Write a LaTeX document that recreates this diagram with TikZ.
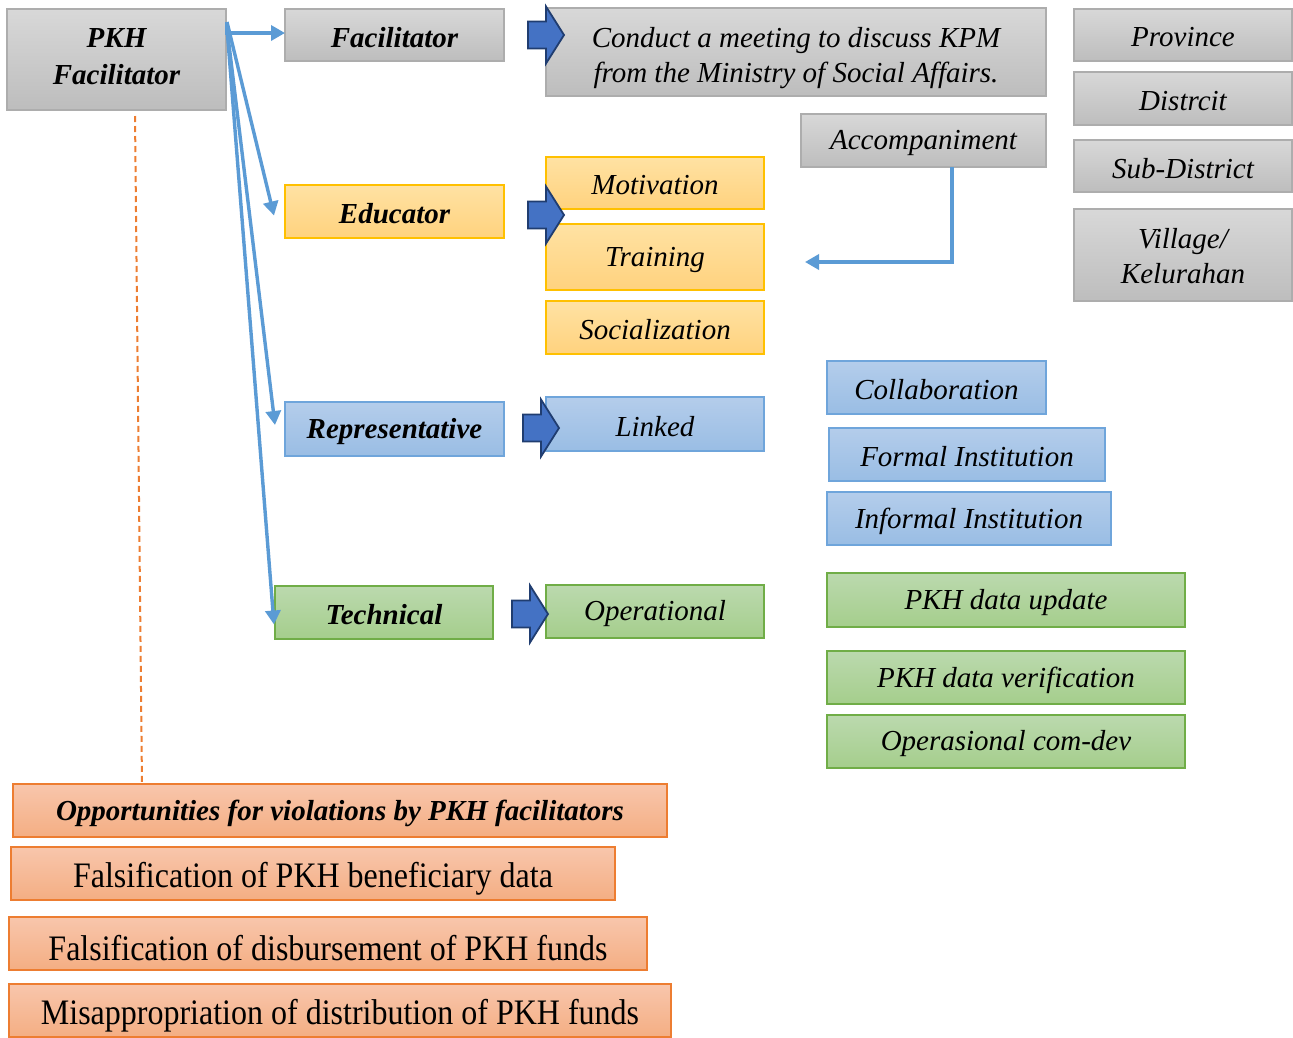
\documentclass[tikz,border=0pt]{standalone}
\usepackage{fontspec}
\usepackage{graphicx}
\setmainfont{Liberation Serif}
\usetikzlibrary{arrows.meta}
\definecolor{gTop}{HTML}{D8D8D8}\definecolor{gBot}{HTML}{BDBDBD}\definecolor{gLine}{HTML}{ADADAD}
\definecolor{yTop}{HTML}{FFE2A3}\definecolor{yBot}{HTML}{FFD27E}\definecolor{yLine}{HTML}{FFC000}
\definecolor{bTop}{HTML}{B4CDEB}\definecolor{bBot}{HTML}{99BDE4}\definecolor{bLine}{HTML}{6FA5DB}
\definecolor{grTop}{HTML}{BBD9AE}\definecolor{grBot}{HTML}{A5CE8C}\definecolor{grLine}{HTML}{70AD47}
\definecolor{oTop}{HTML}{F8C6AC}\definecolor{oBot}{HTML}{F4AE83}\definecolor{oLine}{HTML}{ED7D31}
\definecolor{arrFill}{HTML}{4472C4}\definecolor{arrLine}{HTML}{203D70}
\definecolor{conn}{HTML}{5B9BD5}
% #1 box style, #2 text style, #3 name, #4-#7 corners, #8 text vertical shift, #9 text
\newcommand\bx[9]{%
  \node[#1, minimum width={#6pt-#4pt}, minimum height={#7pt-#5pt}] (#3) at ({(#4+#6)/2},{(#5+#7)/2}) {};
  \node[#2] (#3-t) at ([yshift=#8pt]#3.center) {#9};}
\newcommand\tallrm[1]{\scalebox{1}[1.12]{#1}}
\newcommand\blockarr[2]{\draw[blockarrow] (#1,#2-13.5) -- (#1+18,#2-13.5) -- (#1+18,#2-28.5) -- (#1+36,#2) -- (#1+18,#2+28.5) -- (#1+18,#2+13.5) -- (#1,#2+13.5) -- cycle;}
\begin{document}
\begin{tikzpicture}[x=1pt,y=-1pt,
  base/.style={inner sep=0pt, outer sep=0pt, line width=1.2pt},
  gbox/.style={base, draw=gLine, top color=gTop, bottom color=gBot},
  ybox/.style={base, draw=yLine, top color=yTop, bottom color=yBot},
  bbox/.style={base, draw=bLine, top color=bTop, bottom color=bBot},
  grbox/.style={base, draw=grLine, top color=grTop, bottom color=grBot},
  obox/.style={base, draw=oLine, top color=oTop, bottom color=oBot},
  it/.style={inner sep=0pt, align=center, font=\fontsize{29}{35}\selectfont\itshape},
  hd/.style={inner sep=0pt, align=center, font=\fontsize{29}{37}\selectfont\bfseries\itshape},
  rm/.style={inner sep=0pt, align=center, font=\fontsize{32}{36}\selectfont},
  blockarrow/.style={fill=arrFill, draw=arrLine, line width=1.8pt, line join=miter},
  link/.style={draw=conn, line width=3.4pt, -{Triangle[width=15pt,length=14pt]}},
]
\useasboundingbox (0,0) rectangle (1293,1037);
\fill[white] (0,0) rectangle (1293,1037);

% left column
\bx{gbox}{hd}{pkh}{7}{9}{226}{110}{3}{PKH\\Facilitator}
\bx{gbox}{hd}{fac}{285}{9}{504}{61}{-2.5}{Facilitator}
\bx{ybox}{hd}{edu}{285}{185}{504}{238}{-2.5}{Educator}
\bx{bbox}{hd}{rep}{285}{402}{504}{456}{-2.5}{Representative}
\bx{grbox}{hd}{tech}{275}{586}{493}{639}{-2.5}{Technical}

% middle column
\bx{gbox}{it}{meet}{546}{8}{1046}{96}{-6}{Conduct a meeting to discuss KPM\\from the Ministry of Social Affairs.}
\bx{ybox}{it}{mot}{546}{157}{764}{209}{-2.5}{Motivation}
\bx{ybox}{it}{train}{546}{224}{764}{290}{-2.5}{Training}
\bx{ybox}{it}{soc}{546}{301}{764}{354}{-2.5}{Socialization}
\bx{bbox}{it}{linked}{546}{397}{764}{451}{-2.5}{Linked}
\bx{grbox}{it}{oper}{546}{585}{764}{638}{-2.5}{Operational}

% right columns
\bx{gbox}{it}{prov}{1074}{9}{1292}{61}{-2.5}{Province}
\bx{gbox}{it}{dist}{1074}{72}{1292}{125}{-2.5}{Distrcit}
\bx{gbox}{it}{subd}{1074}{140}{1292}{192}{-2.5}{Sub-District}
\bx{gbox}{it}{vill}{1074}{209}{1292}{301}{-1}{Village/\\Kelurahan}
\bx{gbox}{it}{acc}{801}{114}{1046}{167}{-2.5}{Accompaniment}
\bx{bbox}{it}{coll}{827}{361}{1046}{414}{-2.5}{Collaboration}
\bx{bbox}{it}{formal}{829}{428}{1105}{481}{-2.5}{Formal Institution}
\bx{bbox}{it}{informal}{827}{492}{1111}{545}{-2.5}{Informal Institution}
\bx{grbox}{it}{upd}{827}{573}{1185}{627}{-2.5}{PKH data update}
\bx{grbox}{it}{ver}{827}{651}{1185}{704}{-2.5}{PKH data verification}
\bx{grbox}{it}{comdev}{827}{715}{1185}{768}{-2.5}{Operasional com-dev}

% bottom
\bx{obox}{hd}{opp}{13}{784}{667}{837}{-3}{Opportunities for violations by PKH facilitators}
\bx{obox}{rm}{f1}{11}{847}{615}{900}{-5}{\tallrm{Falsification of PKH beneficiary data}}
\bx{obox}{rm}{f2}{9}{917}{647}{970}{-5}{\tallrm{Falsification of disbursement of PKH funds}}
\bx{obox}{rm}{f3}{9}{984}{671}{1037}{-5}{\tallrm{Misappropriation of distribution of PKH funds}}

% block arrows
\blockarr{528}{35}
\blockarr{528}{215}
\blockarr{523}{428}
\blockarr{512}{614}

% connectors from PKH facilitator
\coordinate (src) at (227,22);
\draw[link] (src) -- (227,33) -- (fac.west |- 0,33);
\draw[link] (src) -- ([xshift=-11pt,yshift=-4pt]edu.west);
\draw[link] ([yshift=-6pt]src) -- ([xshift=-10pt,yshift=4pt]rep.west);
\draw[link] ([yshift=-6pt]src) -- ([xshift=-1pt,yshift=-12pt]tech.west);

% accompaniment connector
\coordinate (accend) at (805,262);
\draw[link, line join=miter] ([xshift=28.5pt]acc.south) |- (accend);

% dashed link to opportunities
\coordinate (dtop) at (135,116);
\draw[draw=oLine, line width=2pt, dash pattern=on 6pt off 4pt] (dtop) -- (opp.north -| 142,0);
\end{tikzpicture}
\end{document}
